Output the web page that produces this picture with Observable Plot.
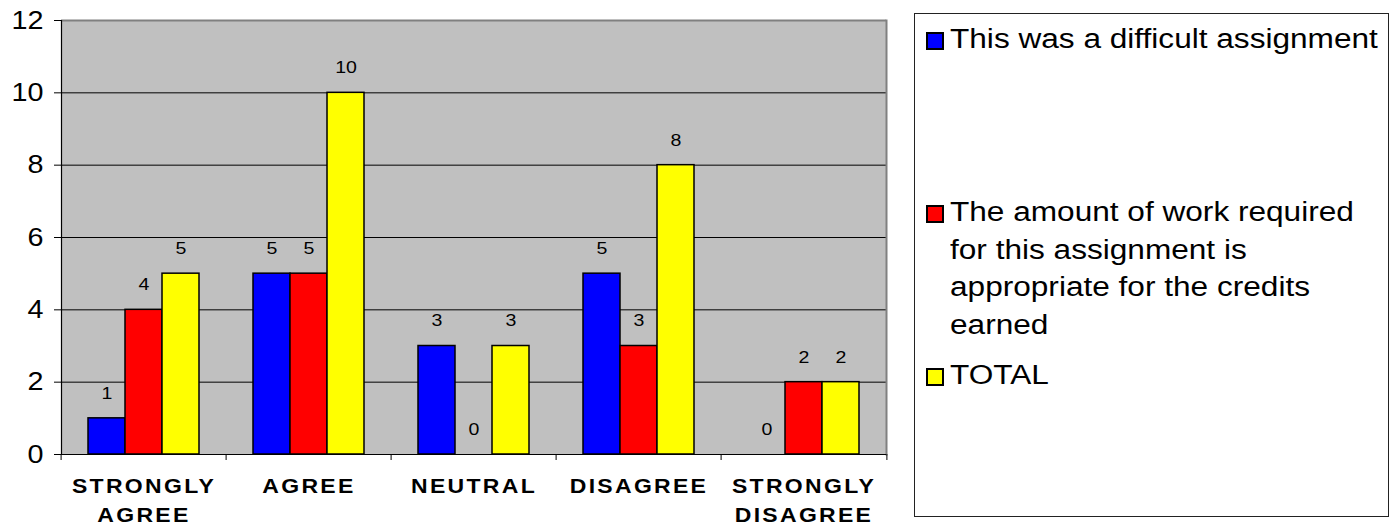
<!DOCTYPE html>
<html><head><meta charset="utf-8">
<script src="https://cdn.jsdelivr.net/npm/d3@7"></script>
<script src="https://cdn.jsdelivr.net/npm/@observablehq/plot@0.6"></script>
<style>
body{margin:0;background:#fff;font-family:"Liberation Sans",Arial,sans-serif;}
#wrap{position:relative;width:1391px;height:527px;overflow:hidden;background:#fff;}
#chart{position:absolute;left:0;top:0;}
g[aria-label="fx-axis tick label"] text{letter-spacing:2px;}
#legend{position:absolute;left:914px;top:13px;width:475px;height:504px;border:1px solid #222;box-sizing:border-box;}
.item{position:absolute;left:0;width:100%;}
.sw{position:absolute;left:11px;top:11px;width:14px;height:14px;border:2px solid #000;}
.lt{position:absolute;left:35px;top:0;width:370px;font-size:27px;line-height:37.7px;color:#000;transform:scaleX(1.17);transform-origin:left top;white-space:normal;}
</style></head><body>
<div id="wrap"><div id="chart"></div><div id="legend"></div></div>
<script>
const categories = ["STRONGLY AGREE", "AGREE", "NEUTRAL", "DISAGREE", "STRONGLY DISAGREE"];
const series = ["This was a difficult assignment", "The amount of work required for this assignment is appropriate for the credits earned", "TOTAL"];
const colors = ["#0000FF", "#FF0000", "#FFFF00"];
const difficult = [1, 5, 3, 5, 0];
const workload = [4, 5, 0, 3, 2];
const total = [5, 10, 3, 8, 2];
const yTicks = [0, 2, 4, 6, 8, 10, 12];
const legendTops = [7, 180, 343];

const seriesValues = [difficult, workload, total];
const rows = categories.flatMap((c, i) => series.map((s, j) => ({cat: c, series: s, value: seriesValues[j][i]})));

const W = 900, ML = 59, MR = 12;
const step = (W - ML - MR) / categories.length;

const plot = Plot.plot({
  width: W, height: 527,
  marginLeft: ML, marginRight: MR, marginTop: 20, marginBottom: 73,
  style: {fontFamily: "'Liberation Sans', Arial, sans-serif", background: "#fff", color: "#000", overflow: "visible"},
  fx: {domain: categories, padding: 0, label: null, axis: null},
  x: {domain: series, paddingInner: 0, paddingOuter: 0.7, axis: null},
  y: {domain: [0, 12], axis: null},
  color: {domain: series, range: colors},
  marks: [
    Plot.frame({facet: "super", fill: "#C0C0C0"}),
    Plot.ruleY(yTicks.filter(t => t > 0 && t < 12), {stroke: "#000", strokeWidth: 1}),
    Plot.ruleY([12], {stroke: "#808080", strokeWidth: 2}),
    Plot.frame({facet: "super", anchor: "right", stroke: "#808080", strokeWidth: 2}),
    Plot.barY(rows, {fx: "cat", x: "series", y: "value", fill: "series", stroke: "#000", strokeWidth: 1.5}),
    Plot.text(rows, {fx: "cat", x: "series", y: "value", text: d => String(d.value), dy: -25, fontSize: 17, fill: "#000"}),
    Plot.ruleY([0], {stroke: "#000", strokeWidth: 1.2}),
    Plot.frame({facet: "super", anchor: "left", stroke: "#000", strokeWidth: 1.2}),
    Plot.axisY({ticks: yTicks, tickSize: 7, tickPadding: 11, fontSize: 25, tickFormat: d => String(d), label: null, stroke: "#000"}),
    Plot.axisFx({anchor: "bottom", tickSize: 0, tickPadding: 18, fontSize: 20, fontWeight: "bold", lineHeight: 1.45, tickFormat: d => d.replace(" ", "\n"), label: null}),
    Plot.axisFx({anchor: "bottom", tickSize: 6, tickFormat: () => "", dx: -step / 2, label: null}),
    Plot.axisFx({anchor: "bottom", ticks: [categories[categories.length - 1]], tickSize: 6, tickFormat: () => "", dx: step / 2, label: null})
  ]
});

d3.select(plot).selectAll("text").each(function() {
  const t = this.getAttribute("transform") || "";
  if (t) this.setAttribute("transform", t + " scale(1.15,1)");
});
document.getElementById("chart").appendChild(plot);

const legend = d3.select("#legend");
series.forEach((s, i) => {
  const item = legend.append("div").attr("class", "item").style("top", legendTops[i] + "px");
  item.append("div").attr("class", "sw").style("background", colors[i]);
  item.append("div").attr("class", "lt").text(s);
});
</script>
</body></html>
